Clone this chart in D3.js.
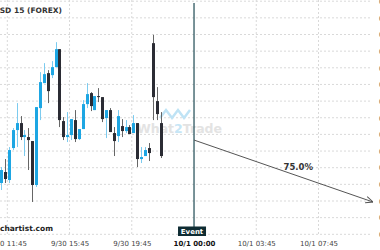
<!DOCTYPE html>
<html>
<head>
<meta charset="utf-8">
<script src="https://cdn.jsdelivr.net/npm/d3@7"></script>
<style>
  body { margin: 0; background: #fff; }
  svg { display: block; font-family: "DejaVu Sans", sans-serif; }
</style>
</head>
<body>
<div id="chart"></div>
<script>
// 15 min candles, index 0 = 9/30 11:45
const firstIndex = -2;
const candleOpen  = [0.64154,0.64187,0.64163,0.64259,0.64313,0.64334,0.64292,0.64292,0.64280,0.64148,0.64379,0.64454,0.64484,0.64478,0.64502,0.64556,0.64340,0.64292,0.64298,0.64343,0.64286,0.64316,0.64391,0.64424,0.64373,0.64415,0.64412,0.64349,0.64373,0.64304,0.64295,0.64325,0.64310,0.64322,0.64304,0.64334,0.64226,0.64235,0.64259,0.64574,0.64400,0.64334];
const candleHigh  = [0.64202,0.64226,0.64262,0.64319,0.64394,0.64355,0.64313,0.64319,0.64280,0.64382,0.64487,0.64514,0.64493,0.64520,0.64577,0.64556,0.64352,0.64367,0.64346,0.64373,0.64316,0.64403,0.64454,0.64427,0.64415,0.64439,0.64412,0.64373,0.64379,0.64322,0.64373,0.64346,0.64343,0.64328,0.64358,0.64334,0.64262,0.64262,0.64274,0.64599,0.64442,0.64367];
const candleLow   = [0.64133,0.64154,0.64154,0.64253,0.64262,0.64283,0.64235,0.64193,0.64097,0.64142,0.64343,0.64454,0.64394,0.64469,0.64502,0.64322,0.64283,0.64277,0.64283,0.64277,0.64283,0.64316,0.64379,0.64370,0.64373,0.64397,0.64337,0.64289,0.64307,0.64235,0.64277,0.64292,0.64304,0.64301,0.64304,0.64202,0.64214,0.64235,0.64220,0.64343,0.64343,0.64229];
const candleClose = [0.64193,0.64166,0.64253,0.64313,0.64334,0.64292,0.64298,0.64283,0.64148,0.64382,0.64457,0.64481,0.64430,0.64502,0.64556,0.64343,0.64292,0.64298,0.64346,0.64286,0.64316,0.64391,0.64421,0.64385,0.64415,0.64412,0.64346,0.64373,0.64307,0.64280,0.64355,0.64310,0.64322,0.64301,0.64334,0.64226,0.64232,0.64253,0.64244,0.64412,0.64361,0.64235];

const tickIndex  = [0, 16, 32, 48, 64, 80];
const tickLabels = ["9/30 11:45", "9/30 15:45", "9/30 19:45", "10/1 00:00", "10/1 03:45", "10/1 07:45"];
const priceTicks = [0.6400,0.6405,0.6410,0.6415,0.6420,0.6425,0.6430,0.6435,0.6440,0.6445,0.6450,0.6455,0.6460,0.6465,0.6470];

const eventIndex = 48;
const forecastFrom = [48, 0.64283];
const forecastTo   = [94, 0.64097];
const forecastLabel = "75.0%";

const W = 380, H = 250;
const svg = d3.select("#chart").append("svg").attr("width", W).attr("height", H);

const step = 3.89;
let x = d3.scaleLinear().domain([0, 16]).range([7.3, 7.3 + 16 * step]);
let y = d3.scaleLinear().domain([0.6400, 0.6405]).range([234.3, 217.65]);

// grid
svg.append("g")
  .selectAll("line.h").data(priceTicks).enter().append("line")
  .attr("x1", 0).attr("x2", 372)
  .attr("y1", d => y(d)).attr("y2", d => y(d))
  .attr("stroke", "#d9d9d9").attr("stroke-dasharray", "2,2");
svg.append("g")
  .selectAll("line.v").data(tickIndex.filter(d => d !== eventIndex)).enter().append("line")
  .attr("x1", d => x(d)).attr("x2", d => x(d))
  .attr("y1", 0).attr("y2", 236)
  .attr("stroke", "#d9d9d9").attr("stroke-dasharray", "2,2");

// price labels (mostly off-canvas)
let yAxis = svg.append("g").attr("transform", "translate(376,0)")
  .call(d3.axisRight(y).tickValues(priceTicks).tickFormat(d3.format(".4f")).tickSize(0));
yAxis.select(".domain").remove();
yAxis.selectAll("text").attr("font-size", 7).attr("fill", "#444").attr("font-family", "DejaVu Sans");

// watermark
let wm = svg.append("g");
wm.append("path")
  .attr("d", d3.line()([[160, 118], [166, 110], [172, 118], [178, 110], [184, 118], [190, 110]]))
  .attr("fill", "none").attr("stroke", "#bfe3f5").attr("stroke-width", 2.5);
let wt = wm.append("text").attr("x", 137).attr("y", 133)
  .attr("font-size", 12.5).attr("font-weight", "bold").attr("fill", "#e3e3e3");
wt.append("tspan").text("What");
wt.append("tspan").attr("fill", "#c6e6f6").text("2");
wt.append("tspan").text("Trade");

// candles
const candles = candleOpen.map((o, i) => ({
  i: firstIndex + i, o: o, h: candleHigh[i], l: candleLow[i], c: candleClose[i]
}));
const off = 0.4;
let cg = svg.append("g");
cg.selectAll("line.wick").data(candles).enter().append("line")
  .attr("x1", d => Math.round(x(d.i + off)) + 0.5)
  .attr("x2", d => Math.round(x(d.i + off)) + 0.5)
  .attr("y1", d => y(d.h)).attr("y2", d => y(d.l))
  .attr("stroke", d => d.c >= d.o ? "#7ccbef" : "#666")
  .attr("stroke-width", 1);
cg.selectAll("rect.body").data(candles).enter().append("rect")
  .attr("x", d => Math.round(x(d.i + off)) - 1)
  .attr("width", 3)
  .attr("y", d => y(Math.max(d.o, d.c)))
  .attr("height", d => Math.max(1, Math.abs(y(d.o) - y(d.c))))
  .attr("fill", d => d.c >= d.o ? "#1da6e3" : "#2b2c34");

// title and source
svg.append("text").attr("x", 62).attr("y", 13).attr("text-anchor", "end")
  .attr("font-size", 7.5).attr("font-weight", "bold").attr("fill", "#333")
  .text("NZDUSD 15 (FOREX)");
svg.append("text").attr("x", 53).attr("y", 231).attr("text-anchor", "end")
  .attr("font-size", 7.5).attr("font-weight", "bold").attr("fill", "#222")
  .text("autochartist.com");

// x axis labels
let xAxis = svg.append("g").attr("transform", "translate(0,238)")
  .call(d3.axisBottom(x).tickValues(tickIndex).tickFormat((d, i) => tickLabels[i]).tickSize(0));
xAxis.select(".domain").remove();
xAxis.selectAll("text").attr("font-size", 7).attr("fill", "#444").attr("font-family", "DejaVu Sans")
  .attr("font-weight", d => d === eventIndex ? "bold" : null)
  .attr("fill", d => d === eventIndex ? "#111" : "#444");

// event marker
svg.append("line")
  .attr("x1", x(eventIndex)).attr("x2", x(eventIndex))
  .attr("y1", 3).attr("y2", 227)
  .attr("stroke", "#1e4a54").attr("stroke-width", 1.2);
svg.append("rect").attr("x", x(eventIndex) - 16).attr("y", 226.5).attr("width", 28).attr("height", 9.5)
  .attr("fill", "#0f2c33");
svg.append("text").attr("x", x(eventIndex) - 2).attr("y", 234).attr("text-anchor", "middle")
  .attr("font-size", 7).attr("font-weight", "bold").attr("fill", "#fff").text("Event");

// forecast arrow
svg.append("defs").append("marker")
  .attr("id", "arr").attr("viewBox", "0 0 10 10").attr("refX", 10).attr("refY", 5)
  .attr("markerWidth", 8).attr("markerHeight", 8).attr("orient", "auto")
  .attr("markerUnits", "userSpaceOnUse")
  .append("path").attr("d", "M1,1 L10,5 L1,9").attr("fill", "none").attr("stroke", "#555").attr("stroke-width", 1.2);
svg.append("line")
  .attr("x1", x(forecastFrom[0])).attr("y1", y(forecastFrom[1]))
  .attr("x2", x(forecastTo[0])).attr("y2", y(forecastTo[1]))
  .attr("stroke", "#555").attr("stroke-width", 1)
  .attr("marker-end", "url(#arr)");
svg.append("text")
  .attr("x", x(74.8)).attr("y", y(0.64193))
  .attr("text-anchor", "middle")
  .attr("font-size", 8.5).attr("font-weight", "bold").attr("fill", "#333")
  .text(forecastLabel);
</script>
</body>
</html>
